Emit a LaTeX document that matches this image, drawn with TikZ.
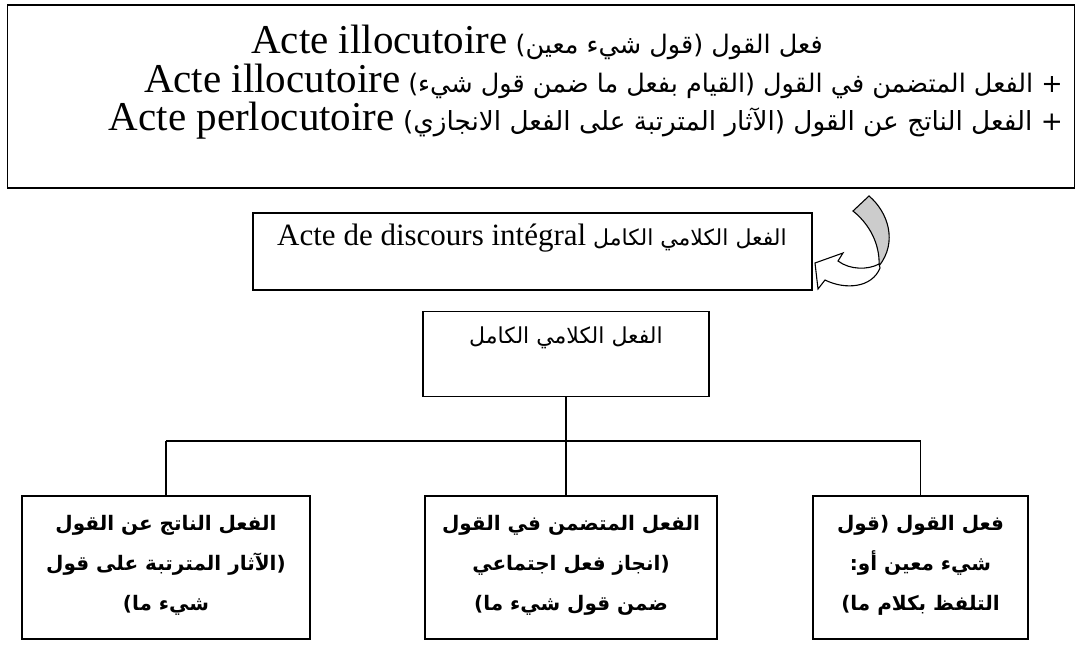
\documentclass[tikz,border=0pt]{standalone}
\usepackage{fontspec}
\setmainfont{Liberation Serif}
\newfontfamily\arabicfont[Script=Arabic]{DejaVu Sans}
\TeXXeTstate=1
\begin{document}
\begin{tikzpicture}[x=1pt,y=-1pt,
  box/.style={draw, line width=1.3pt, inner sep=0pt},
  topbox/.style={draw, line width=1.8pt, inner sep=0pt},
  conn/.style={line width=1.2pt},
  txt/.style={inner sep=0pt, anchor=base},
  btxt/.style={inner sep=0pt, align=center, font=\arabicfont\bfseries\fontsize{20}{40}\selectfont},
  bigar/.style={font=\arabicfont\fontsize{25.5}{30}\selectfont},
]
\newcommand\latbig[1]{{\fontsize{41}{42}\rmfamily #1}}
\useasboundingbox (0,0) rectangle (1080,650);
% top box
\node[topbox, minimum width=1067pt, minimum height=183pt] (top) at (541,96.5) {};
\node[txt, bigar] (t1) at (537,54) {\beginR فعل القول (قول شيء معين) \beginL\latbig{Acte illocutoire}\endL\endR};
\node[txt, bigar, anchor=base east] (t2) at (1063,93) {\beginR + الفعل المتضمن في القول (القيام بفعل ما ضمن قول شيء) \beginL\latbig{Acte illocutoire}\endL\endR};
\node[txt, font=\arabicfont\fontsize{26.3}{30}\selectfont, anchor=base east] (t3) at (1063,131) {\beginR + الفعل الناتج عن القول (الآثار المترتبة على الفعل الانجازي) \beginL\latbig{Acte perlocutoire}\endL\endR};
% middle box
\node[box, minimum width=559pt, minimum height=77pt] (mid) at (532.5,251.5) {};
\node[txt, font=\arabicfont\fontsize{22}{24}\selectfont] (mt) at (532,245) {\beginR الفعل الكلامي الكامل \beginL{\fontsize{31}{32}\rmfamily Acte de discours intégral}\endL\endR};
% curved arrow
\fill[gray!40, draw=black, line width=1.1pt] (853,211) -- (869,196)
  .. controls (888,212) and (898,242) .. (879,266)
  .. controls (880,250) and (874,228) .. cycle;
\draw[fill=white, line width=1.1pt] (879,264)
  .. controls (868,270) and (850,270) .. (838,261)
  -- (843,253) -- (815,263) -- (818,289) -- (825,280)
  .. controls (845,290) and (872,288) .. (880,268) -- cycle;
\coordinate (arrowtip) at (815,263);
% second box
\node[box, minimum width=286pt, minimum height=85pt] (b2) at (566,354) {};
\node[txt, font=\arabicfont\fontsize{22}{24}\selectfont] (b2t) at (566,343) {\beginR الفعل الكلامي الكامل\endR};
% bottom boxes
\node[box, minimum width=288pt, minimum height=143pt] (bl) at (166,567.5) {};
\node[box, minimum width=292pt, minimum height=143pt] (bm) at (571,567.5) {};
\node[box, minimum width=215pt, minimum height=143pt] (br) at (920.5,567.5) {};
\node[btxt] (blt) at (166,565) {\beginR الفعل الناتج عن القول\endR\\\beginR (الآثار المترتبة على قول\endR\\\beginR شيء ما)\endR};
\node[btxt] (bmt) at (571,565) {\beginR الفعل المتضمن في القول\endR\\\beginR (انجاز فعل اجتماعي\endR\\\beginR ضمن قول شيء ما)\endR};
\node[btxt] (brt) at (920.5,565) {\beginR فعل القول (قول\endR\\\beginR شيء معين أو:\endR\\\beginR التلفظ بكلام ما)\endR};
% connectors
\coordinate (jl) at (bl.north |- 0,441);
\coordinate (jm) at (b2.south |- 0,441);
\coordinate (jr) at (br.north |- 0,441);
\draw[conn] (b2.south) -- (jm);
\draw[conn] (jl) -- (jr);
\draw[conn] (jl) -- (bl.north);
\draw[conn] (jm) -- (jm |- bm.north);
\draw[conn] (jr) -- (br.north);
\end{tikzpicture}
\end{document}
